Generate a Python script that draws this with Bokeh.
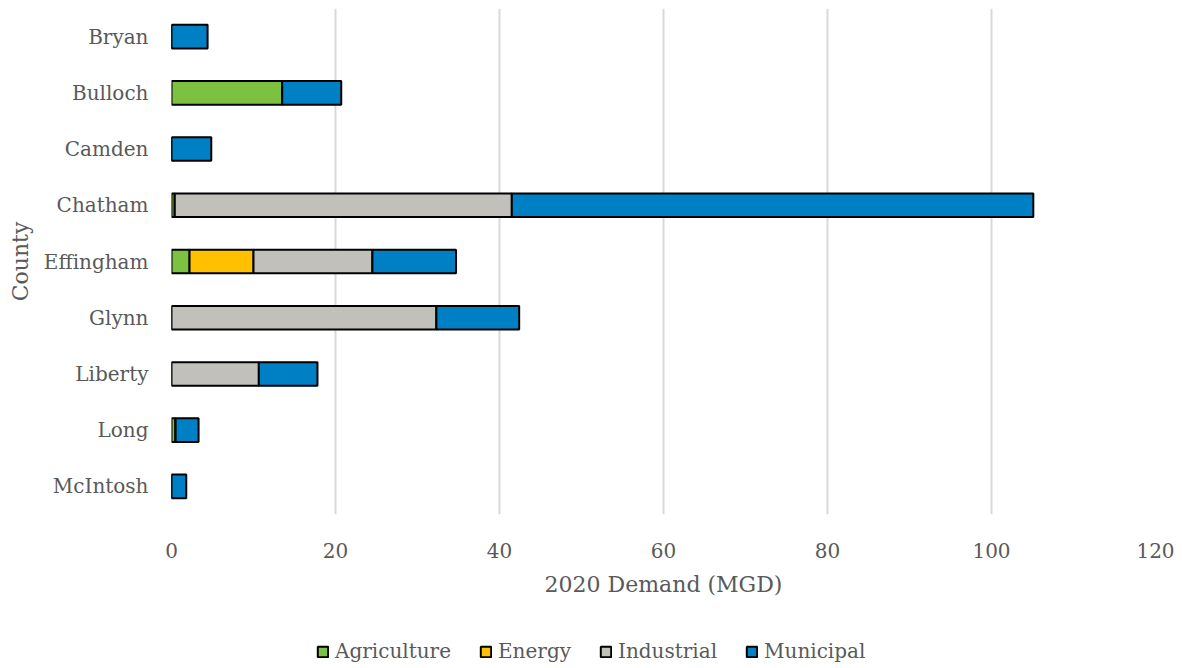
from bokeh.plotting import figure
from bokeh.layouts import column
from bokeh.models import ColumnDataSource, FactorRange, Legend, LegendItem, SingleIntervalTicker
from bokeh.embed import file_html
from bokeh.resources import INLINE

# 2020 water demand by county and sector, million gallons per day
counties = ["Bryan", "Bulloch", "Camden", "Chatham", "Effingham", "Glynn", "Liberty", "Long", "McIntosh"]
agriculture = [0.0, 13.5, 0.0, 0.4, 2.2, 0.0, 0.0, 0.5, 0.0]
energy = [0.0, 0.0, 0.0, 0.0, 7.8, 0.0, 0.0, 0.0, 0.0]
industrial = [0.0, 0.0, 0.0, 41.1, 14.5, 32.3, 10.65, 0.0, 0.0]
municipal = [4.4, 7.2, 4.85, 63.6, 10.2, 10.1, 7.15, 2.8, 1.8]

sectors = ["Agriculture", "Energy", "Industrial", "Municipal"]
colors = ["#7CC142", "#FFC000", "#C1C0BB", "#0080C4"]

source = ColumnDataSource(dict(county=counties, Agriculture=agriculture, Energy=energy,
                               Industrial=industrial, Municipal=municipal))

FONT = "DejaVu Serif"
TEXT = "#595959"

p = figure(width=1182, height=605, output_backend="svg", toolbar_location=None,
           y_range=FactorRange(*reversed(counties)), x_range=(0, 120))
p.min_border_left = 171
p.min_border_right = 27
p.min_border_top = 8
p.min_border_bottom = 91
p.outline_line_color = None
p.background_fill_color = "white"
p.border_fill_color = "white"
p.y_range.range_padding = 0

p.hbar_stack(sectors, y="county", height=0.42, source=source,
             fill_color=colors, line_color="black", line_width=2)

p.xaxis.ticker = SingleIntervalTicker(interval=20)
p.xgrid.grid_line_color = "#D9D9D9"
p.xgrid.grid_line_width = 2
p.ygrid.grid_line_color = None

for ax in (p.xaxis[0], p.yaxis[0]):
    ax.axis_line_color = None
    ax.major_tick_line_color = None
    ax.minor_tick_line_color = None
    ax.major_label_text_font = FONT
    ax.major_label_text_color = TEXT
    ax.major_label_text_font_size = "20px"
    ax.axis_label_text_font = FONT
    ax.axis_label_text_color = TEXT
    ax.axis_label_text_font_size = "22px"
    ax.axis_label_text_font_style = "normal"

p.xaxis.axis_label = "2020 Demand (MGD)"
p.xaxis.major_label_standoff = 22
p.xaxis.axis_label_standoff = 11
p.yaxis.axis_label = "County"
p.yaxis.major_label_standoff = 17
p.yaxis.axis_label_standoff = 8

# sector key drawn in its own strip under the chart; the swatch renderers hold NaN so only the key shows them
nan = float("nan")
key = figure(width=1182, height=63, output_backend="svg", toolbar_location=None,
             x_range=(0, 1), y_range=(0, 1), min_border=0)
key.axis.visible = False
key.grid.grid_line_color = None
key.outline_line_color = None
key_renderers = [key.hbar(y=[nan], left=[nan], right=[nan], height=0.5,
                          fill_color=c, line_color="black", line_width=2)
                 for c in colors]
legend = Legend(items=[LegendItem(label=s, renderers=[r]) for s, r in zip(sectors, key_renderers)],
                orientation="horizontal", location=(145, 5),
                label_text_font=FONT, label_text_color=TEXT, label_text_font_size="20px",
                glyph_width=13, glyph_height=13, spacing=28, label_standoff=6,
                border_line_color=None, background_fill_color=None, margin=0, padding=0)
key.add_layout(legend, "center")

open("out.html", "w").write(file_html(column(p, key, spacing=0), INLINE))
